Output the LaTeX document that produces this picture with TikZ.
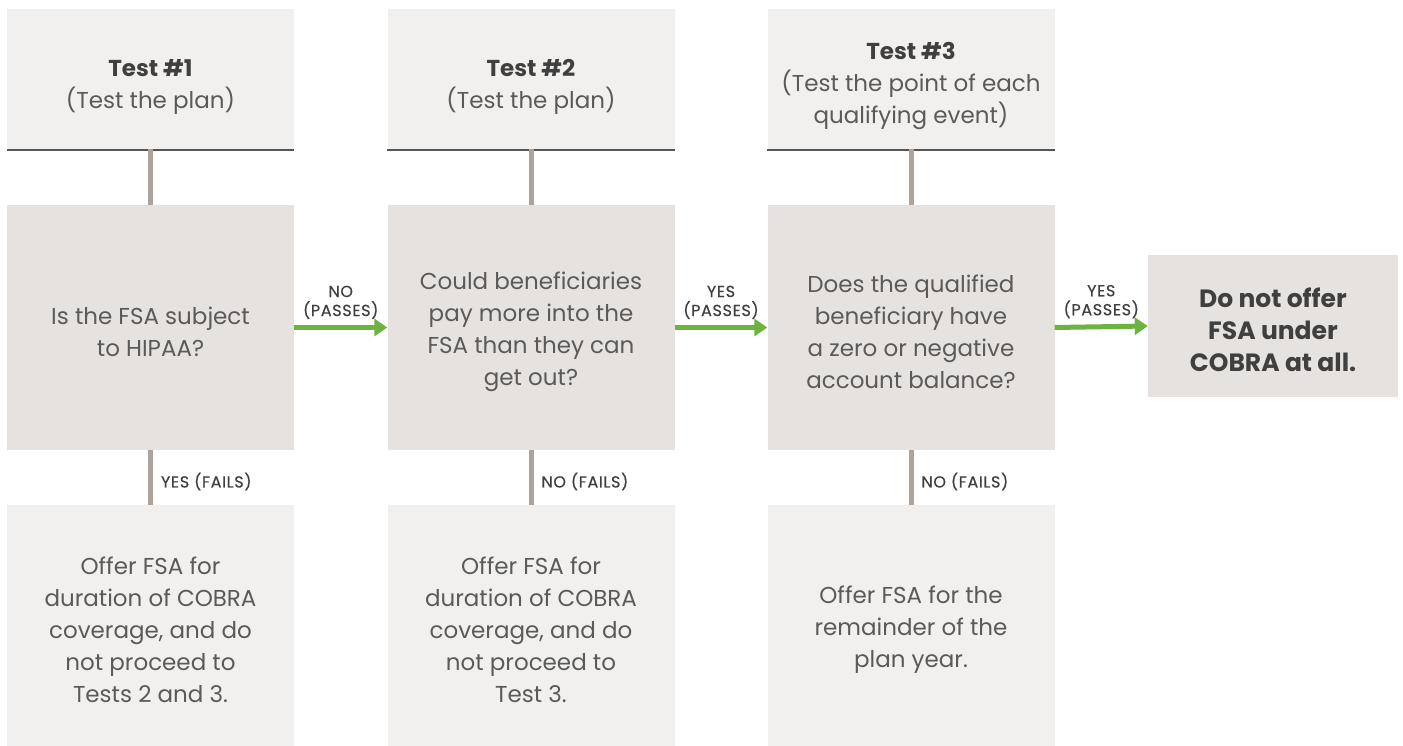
\documentclass[tikz,border=0pt]{standalone}
\usepackage{fontspec}
\setmainfont{Poppins}
\newfontfamily\tagfont[LetterSpace=4,FakeBold=0.4]{Poppins}
\usetikzlibrary{arrows.meta}
\definecolor{headfill}{HTML}{F1F0EE}
\definecolor{askfill}{HTML}{E6E2DF}
\definecolor{txt}{HTML}{5A5A5A}
\definecolor{darktxt}{HTML}{3F3F3F}
\definecolor{rule}{HTML}{555555}
\definecolor{stem}{HTML}{ADA39B}
\definecolor{go}{HTML}{6CB33F}
\begin{document}
\begin{tikzpicture}[x=1pt,y=-1pt,
  box/.style={inner sep=0pt,minimum width=287pt},
  headbox/.style={box,fill=headfill,minimum height=141pt},
  askbox/.style={box,fill=askfill,minimum height=245pt},
  outbox/.style={box,fill=headfill,minimum height=241pt},
  finalbox/.style={box,fill=askfill,minimum width=250pt,minimum height=142pt},
  words/.style={inner sep=0pt,align=center,text=txt,
    font=\fontsize{23}{32}\selectfont},
  boldwords/.style={words,text=darktxt,font=\fontsize{25}{32}\selectfont\bfseries},
  headrule/.style={draw=rule,line width=2.5pt},
  stemline/.style={draw=stem,line width=5pt},
  goarrow/.style={draw=go,line width=5pt,-{Triangle[length=13pt,width=17pt]}},
  tag/.style={text=darktxt,font=\fontsize{16}{19}\tagfont,inner sep=0pt,align=center}
]
\useasboundingbox (0,0) rectangle (1403,746);

% column headers
\node[headbox] (h1) at (150.5,79.5) {};
\node[headbox] (h2) at (531,79.5) {};
\node[headbox] (h3) at (911,79.5) {};
\node[words] at ([yshift=-7pt]h1.center) {{\bfseries\color{darktxt}Test \#1}\\(Test the plan)};
\node[words] at ([yshift=-7pt]h2.center) {{\bfseries\color{darktxt}Test \#2}\\(Test the plan)};
\node[words] at ([yshift=-7pt]h3.center) {{\bfseries\color{darktxt}Test \#3}\\(Test the point of each\\qualifying event)};
\foreach \h in {h1,h2,h3}
  \draw[headrule] (\h.south west) -- (\h.south east);

% questions
\node[askbox] (q1) at (150.5,327.5) {};
\node[askbox] (q2) at (531,327.5) {};
\node[askbox] (q3) at (911,327.5) {};
\node[words] at ([yshift=-4pt]q1.center) {Is the FSA subject\\to HIPAA?};
\node[words] at ([yshift=-4pt]q2.center) {Could beneficiaries\\pay more into the\\FSA than they can\\get out?};
\node[words] at ([yshift=-4pt]q3.center) {Does the qualified\\beneficiary have\\a zero or negative\\account balance?};

% outcomes
\node[outbox] (o1) at (150.5,625.5) {};
\node[outbox] (o2) at (531,625.5) {};
\node[outbox] (o3) at (911,625.5) {};
\node[finalbox] (f) at (1273,326) {};
\node[words] at ([yshift=-4pt]o1.center) {Offer FSA for\\duration of COBRA\\coverage, and do\\not proceed to\\Tests 2 and 3.};
\node[words] at ([yshift=-4pt]o2.center) {Offer FSA for\\duration of COBRA\\coverage, and do\\not proceed to\\Test 3.};
\node[words] at ([yshift=-4pt]o3.center) {Offer FSA for the\\remainder of the\\plan year.};
\node[boldwords] at ([yshift=-4pt]f.center) {Do not offer\\FSA under\\COBRA at all.};

% header to question stems
\draw[stemline] ([yshift=1.5pt]h1.south) -- (q1.north);
\draw[stemline] ([yshift=1.5pt]h2.south) -- (q2.north);
\draw[stemline] ([yshift=1.5pt]h3.south) -- (q3.north);

% failing branches
\draw[stemline] (q1.south) -- (o1.north) node[midway,tag,anchor=west,xshift=8pt,yshift=-4pt] {YES (FAILS)};
\draw[stemline] (q2.south) -- (o2.north) node[midway,tag,anchor=west,xshift=8pt,yshift=-4pt] {NO (FAILS)};
\draw[stemline] (q3.south) -- (o3.north) node[midway,tag,anchor=west,xshift=8pt,yshift=-4pt] {NO (FAILS)};

% passing branches
\draw[goarrow] (q1.east) -- (q2.west) node[midway,tag,anchor=south,yshift=6pt] {NO\\(PASSES)};
\draw[goarrow] (q2.east) -- (q3.west) node[midway,tag,anchor=south,yshift=6pt] {YES\\(PASSES)};
\draw[goarrow] (q3.east) -- (f.west) node[midway,tag,anchor=south,yshift=6pt] {YES\\(PASSES)};
\end{tikzpicture}
\end{document}
